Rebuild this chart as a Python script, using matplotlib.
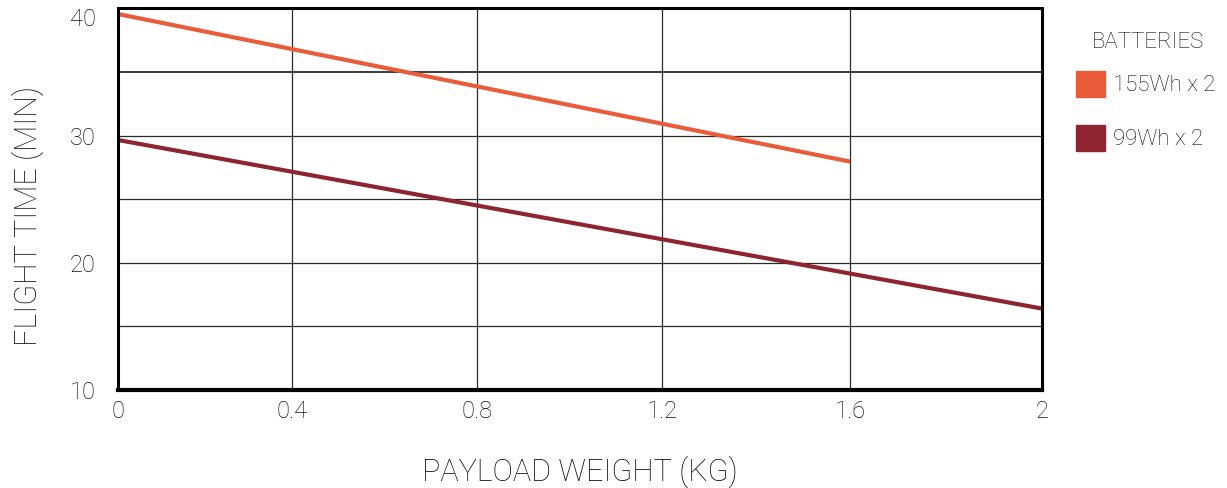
import matplotlib
matplotlib.use("Agg")
import matplotlib.pyplot as plt
from matplotlib.patches import Patch
import numpy as np

payload_155 = [0, 1.6]
time_155 = [39.55, 27.95]
payload_99 = [0, 2]
time_99 = [29.65, 16.4]
series_names = ["155Wh x 2", "99Wh x 2"]
colors = ["#EA5B3A", "#8E2430"]
xticks = [0, 0.4, 0.8, 1.2, 1.6, 2]
xticklabels = ["0", "0.4", "0.8", "1.2", "1.6", "2"]
yticks = [10, 20, 30, 40]
ygrid = [15, 20, 25, 30, 35]

# the source chart spaces its x categories slightly unevenly (layout, not data)
x_layout = np.array([0, 174, 359, 544, 732, 924]) / 924.0
x_vals = np.array(xticks, dtype=float)

def fwd(v):
    return np.interp(v, x_vals, x_layout)

def inv(v):
    return np.interp(v, x_layout, x_vals)

plt.rcParams['font.family'] = ['Roboto', 'DejaVu Sans']
TXT = "#111111"

fig = plt.figure(figsize=(12.27, 4.88), dpi=100)
ax = fig.add_axes([0.0962, 0.2008, 0.753, 0.7822])

ax.set_xscale('function', functions=(fwd, inv))
ax.set_xlim(0, 2)
ax.set_ylim(10, 40)

for x in xticks[1:-1]:
    ax.axvline(x, color="#2a2a2a", lw=0.9, zorder=1)
for y in ygrid:
    ax.axhline(y, color="#2a2a2a", lw=1.3 if y == 35 else 0.9, zorder=1)

ax.plot(payload_155, time_155, color=colors[0], lw=3, solid_capstyle='butt', zorder=3, clip_on=False)
ax.plot(payload_99, time_99, color=colors[1], lw=3, solid_capstyle='butt', zorder=3, clip_on=False)

ax.set_xticks(xticks)
ax.set_xticklabels(xticklabels)
ax.set_xticks([], minor=True)
ax.set_yticks(yticks)
ax.tick_params(axis='both', which='both', length=0, labelsize=17, colors=TXT)
ax.tick_params(axis='x', pad=7)
ax.tick_params(axis='y', pad=16)
for lab in ax.get_xticklabels() + ax.get_yticklabels():
    lab.set_fontweight('light')
ax.get_yticklabels()[-1].set_va('top')

for s in ["left", "top", "right"]:
    ax.spines[s].set_linewidth(2.2)
ax.spines["bottom"].set_linewidth(3)
for s in ax.spines.values():
    s.set_color("black")
    s.set_zorder(4)

ax.set_xlabel("PAYLOAD WEIGHT (KG)", fontsize=22, fontweight='light', labelpad=24, color=TXT)
ax.set_ylabel("FLIGHT TIME (MIN)", fontsize=22, fontweight='light', color=TXT, va='center')
ax.yaxis.set_label_coords(-0.098, 0.455)

# legend: title as text, entries via the library legend
fig.text(1148 / 1227, 1 - 43 / 488, "BATTERIES", ha='center', va='center',
         fontsize=16, fontweight='light', color=TXT)
handles = [Patch(facecolor=c, edgecolor=c) for c in colors]
leg = fig.legend(handles, series_names, loc="upper left",
                 bbox_to_anchor=(1076 / 1227, 1 - 71 / 488), frameon=False, fontsize=16,
                 handlelength=1.3, handleheight=1.42, borderpad=0,
                 handletextpad=0.35, labelspacing=1.25, borderaxespad=0)
for t in leg.get_texts():
    t.set_fontweight('light')
    t.set_color(TXT)

fig.savefig("out.png", dpi=100)
